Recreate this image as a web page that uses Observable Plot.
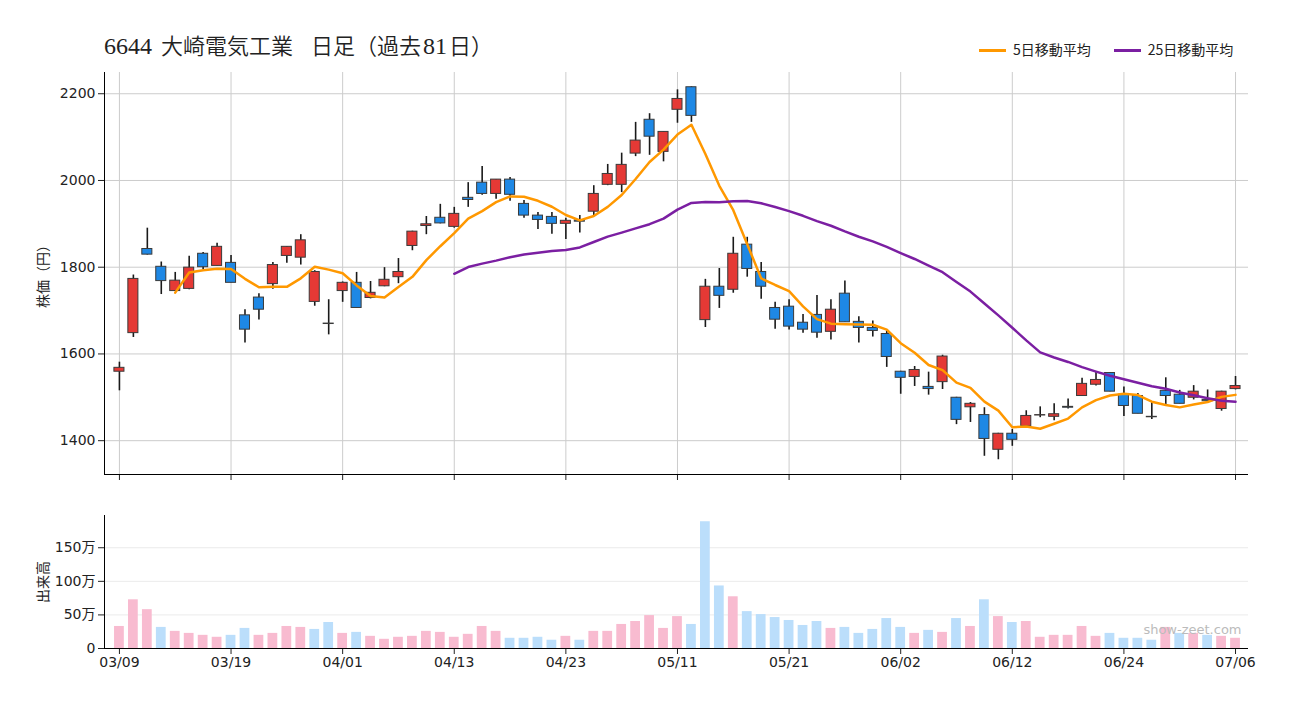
<!DOCTYPE html>
<html><head><meta charset="utf-8">
<script src="https://cdn.jsdelivr.net/npm/d3@7"></script>
<script src="https://cdn.jsdelivr.net/npm/@observablehq/plot@0.6"></script>
<style>
body{margin:0;background:#fff;}
#wrap{position:relative;width:1300px;height:720px;overflow:hidden;font-family:"Noto Sans CJK JP",sans-serif;color:#222;}
#title{position:absolute;left:0;top:0;}
#legend{position:absolute;left:979px;top:39px;font-size:14px;line-height:20px;white-space:nowrap;}
#legend .sw{display:inline-block;width:27px;height:3px;vertical-align:middle;margin-right:7px;position:relative;top:-1px;}
#legend .item{display:inline-block;margin-right:23px;}
.ylab{position:absolute;font-size:14px;white-space:nowrap;transform:translate(-50%,-50%) rotate(-90deg);}
#price{position:absolute;left:0;top:60px;}
#volume{position:absolute;left:0;top:505px;}
</style></head>
<body><div id="wrap">
<svg id="title" width="620" height="70"><text x="104" y="54" fill="#222" font-size="22" font-family="'Noto Sans CJK JP', sans-serif" font-weight="350"><tspan font-family="'Liberation Serif', serif" font-size="24" font-weight="400">6644</tspan><tspan dx="9">大崎電気工業</tspan><tspan dx="18">日足（過去</tspan><tspan dx="2" font-family="'Liberation Serif', serif" font-size="24" font-weight="400">81</tspan><tspan dx="2">日）</tspan></text></svg>
<div id="legend"><span class="item"><span class="sw" style="background:#ff9800"></span>5日移動平均</span><span class="item" style="margin-right:0"><span class="sw" style="background:#7b1fa2"></span>25日移動平均</span></div>
<div class="ylab" style="left:42px;top:273px;">株価（円）</div>
<div class="ylab" style="left:42px;top:582px;">出来高</div>
<div id="price"></div>
<div id="volume"></div>
</div>
<script>
const dates = ["03/09","03/10","03/11","03/12","03/13","03/16","03/17","03/18","03/19","03/23",
"03/24","03/25","03/26","03/27","03/30","03/31","04/01","04/02","04/03","04/06",
"04/07","04/08","04/09","04/10","04/13","04/14","04/15","04/16","04/17","04/20",
"04/21","04/22","04/23","04/24","04/27","04/28","04/30","05/01","05/07","05/08",
"05/11","05/12","05/13","05/14","05/15","05/18","05/19","05/20","05/21","05/22",
"05/25","05/26","05/27","05/28","05/29","06/01","06/02","06/03","06/04","06/05",
"06/08","06/09","06/10","06/11","06/12","06/15","06/16","06/17","06/18","06/19",
"06/22","06/23","06/24","06/25","06/26","06/29","06/30","07/01","07/02","07/03","07/06"];
const opens = [1559,1648,1842,1801,1745,1750,1831,1803,1810,1689,
1730,1761,1826,1822,1720,1670,1745,1764,1729,1756,
1777,1849,1895,1914,1893,1960,1995,1969,2002,1946,
1919,1916,1900,1908,1928,1990,1990,2062,2140,2066,
2163,2215,1678,1755,1748,1852,1789,1706,1709,1672,
1690,1651,1739,1674,1660,1646,1559,1547,1524,1535,
1499,1477,1459,1379,1416,1433,1458,1455,1478,1503,
1529,1556,1506,1503,1455,1515,1506,1499,1494,1473,1519];
const highs = [1581,1782,1890,1812,1788,1825,1834,1855,1827,1702,
1739,1811,1847,1875,1792,1725,1766,1788,1767,1799,
1820,1883,1917,1945,1938,1995,2032,2002,2007,1954,
1926,1926,1913,1919,1988,2037,2063,2134,2154,2112,
2209,2216,1772,1797,1869,1869,1811,1719,1725,1691,
1735,1725,1768,1686,1676,1652,1560,1571,1558,1597,
1500,1488,1476,1417,1426,1469,1478,1485,1496,1544,
1559,1557,1524,1509,1489,1545,1516,1527,1517,1514,1548];
const lows = [1515,1638,1828,1737,1745,1748,1795,1803,1764,1625,
1678,1749,1809,1805,1710,1644,1719,1706,1727,1755,
1762,1838,1875,1900,1890,1938,1966,1957,1952,1913,
1887,1876,1864,1879,1917,1988,1972,2055,2058,2043,
2132,2134,1661,1705,1740,1777,1726,1657,1655,1648,
1636,1632,1673,1625,1639,1569,1507,1525,1505,1518,
1437,1442,1364,1356,1387,1431,1453,1446,1473,1502,
1526,1513,1456,1462,1449,1479,1485,1494,1490,1468,1517];
const closes = [1568,1773,1829,1768,1769,1799,1800,1847,1764,1656,
1702,1805,1847,1862,1789,1669,1764,1706,1741,1771,
1789,1882,1899,1901,1923,1955,1969,2002,1967,1919,
1909,1900,1907,1905,1969,2015,2036,2092,2101,2112,
2188,2149,1755,1734,1831,1796,1755,1679,1663,1656,
1649,1702,1673,1660,1653,1593,1545,1563,1519,1594,
1448,1485,1404,1416,1402,1457,1459,1461,1476,1531,
1540,1513,1480,1462,1454,1503,1485,1513,1491,1513,1526];
// 出来高（万株）
const volumes = [32.8,72.5,57.8,31.4,25.5,22.5,19.6,16.7,19.6,29.9,
19.6,22.5,32.8,31.4,28.4,38.7,22.5,24.0,18.1,13.7,
16.7,18.1,25.5,24.0,16.7,21.1,32.8,25.5,15.2,15.2,
16.7,12.3,18.1,12.3,25.5,25.5,35.8,40.2,49.0,29.9,
47.5,35.8,188.7,93.1,77.0,54.9,50.5,46.1,41.7,34.3,
40.2,29.9,31.4,22.5,28.4,44.6,31.4,22.5,27.0,24.0,
44.6,32.8,72.5,47.5,38.7,40.2,16.7,19.6,19.6,32.8,
18.1,22.5,15.2,15.2,12.3,31.4,22.5,22.5,19.6,18.1,15.2];
const priceTicks = [1400,1600,1800,2000,2200];
const volumeTicks = [0,50,100,150];

const data = dates.map((d,i)=>({i, date:d, open:opens[i], high:highs[i], low:lows[i], close:closes[i], vol:volumes[i],
  volUp: i===0 ? closes[i]>=opens[i] : closes[i]>=closes[i-1]}));
function movingAvg(n){
  const out=[];
  for(let i=n-1;i<closes.length;i++) out.push({i, v:d3.mean(closes.slice(i-n+1,i+1))});
  return out;
}
const ma5 = movingAvg(5), ma25 = movingAvg(25);
const xDomain = [-1.07, 80.93];
const tickIdx = d3.range(0, 81, 8);
const font = "'DejaVu Sans', 'Noto Sans CJK JP', sans-serif";
const yMin = 1322, yMax = 2249;

const price = Plot.plot({
  width:1300, height:430, marginTop:12, marginBottom:16, marginLeft:104, marginRight:52,
  style:{fontFamily:font, fontSize:"14px", color:"#222", background:"transparent"},
  x:{type:"linear", domain:xDomain},
  y:{domain:[yMin,yMax]},
  marks:[
    Plot.gridX(tickIdx, {stroke:"#cccccc", strokeOpacity:1}),
    Plot.gridY(priceTicks, {stroke:"#cccccc", strokeOpacity:1}),
    Plot.axisY(priceTicks, {tickSize:6, tickPadding:3, label:null, fontSize:14, tickFormat:d=>String(d)}),
    Plot.axisX(tickIdx, {tickSize:6, tickFormat:()=>"", label:null}),
    Plot.ruleY([yMin], {stroke:"#000"}),
    Plot.ruleX([xDomain[0]], {stroke:"#000"}),
    Plot.ruleX(data, {x:"i", y1:"low", y2:"high", stroke:"#1a1a1a", strokeWidth:1.6}),
    Plot.rect(data, {x1:d=>d.i-0.36, x2:d=>d.i+0.36, y1:"open", y2:"close",
      fill:d=>d.close>=d.open?"#e53935":"#1e88e5", stroke:"#3a3a3a", strokeWidth:1}),
    Plot.line(ma5, {x:"i", y:"v", stroke:"#ff9800", strokeWidth:2.5}),
    Plot.line(ma25, {x:"i", y:"v", stroke:"#7b1fa2", strokeWidth:2.5})
  ]
});
document.getElementById("price").appendChild(price);

const volume = Plot.plot({
  width:1300, height:180, marginTop:10, marginBottom:37, marginLeft:104, marginRight:52,
  style:{fontFamily:font, fontSize:"14px", color:"#222", background:"transparent"},
  x:{type:"linear", domain:xDomain},
  y:{domain:[0,198]},
  marks:[
    Plot.gridY([50,100,150], {stroke:"#ebebeb", strokeOpacity:1}),
    Plot.rect(data, {x1:d=>d.i-0.35, x2:d=>d.i+0.35, y1:0, y2:"vol",
      fill:d=>d.volUp?"#f8bbd0":"#bbdefb"}),
    Plot.axisY(volumeTicks, {tickSize:6, tickPadding:3, label:null, fontSize:14,
      tickFormat:d=>d===0?"0":d+"万"}),
    Plot.axisX(tickIdx, {tickSize:6, tickPadding:3, label:null, fontSize:14, tickFormat:d=>dates[d]}),
    Plot.ruleY([0], {stroke:"#000"}),
    Plot.ruleX([xDomain[0]], {stroke:"#000"}),
    Plot.text(["show-zeet.com"], {frameAnchor:"bottom-right", dx:-7, dy:-15, fill:"#bbbbbb", fontSize:13, fontFamily:"'DejaVu Sans', sans-serif"})
  ]
});
document.getElementById("volume").appendChild(volume);
</script>
</body></html>
